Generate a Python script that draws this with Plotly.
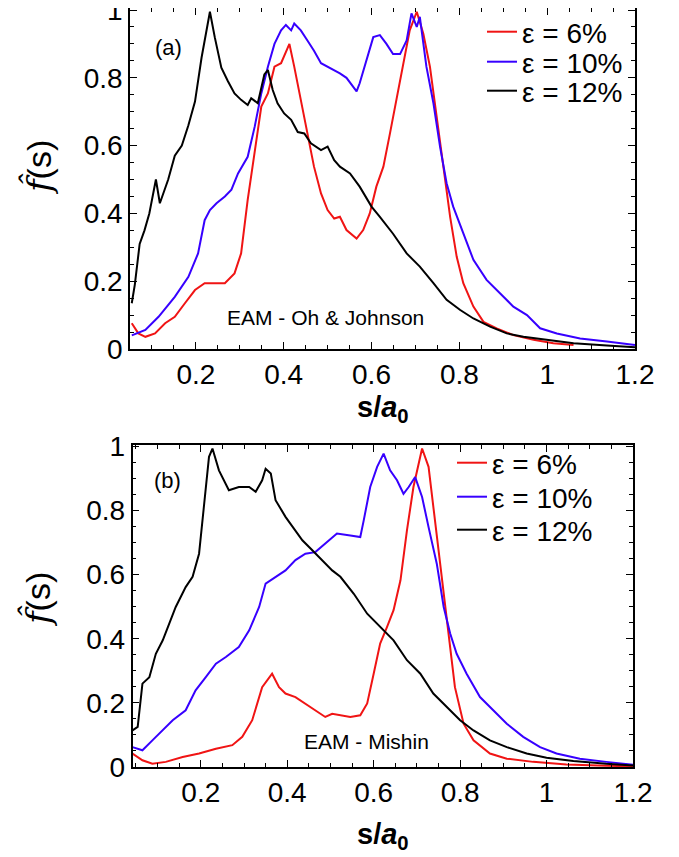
import plotly.graph_objects as go

# ---------------- Panel (a): EAM - Oh & Johnson ----------------
a_x_6 = [0.054, 0.069, 0.085, 0.107, 0.13, 0.152, 0.175, 0.198, 0.22, 0.243, 0.266, 0.288, 0.303, 0.318,
         0.334, 0.349, 0.364, 0.379, 0.394, 0.413, 0.424, 0.439, 0.454, 0.469, 0.485, 0.50, 0.515, 0.528,
         0.543, 0.566, 0.581, 0.596, 0.611, 0.627, 0.642, 0.657, 0.672, 0.687, 0.703, 0.718, 0.733, 0.748,
         0.763, 0.779, 0.794, 0.809, 0.832, 0.855, 0.885, 0.923, 0.969, 1.014, 1.06]
a_y_6 = [0.076, 0.046, 0.036, 0.046, 0.076, 0.095, 0.135, 0.174, 0.194, 0.194, 0.194, 0.223, 0.282, 0.44,
         0.587, 0.715, 0.754, 0.833, 0.843, 0.90, 0.833, 0.735, 0.636, 0.538, 0.459, 0.41, 0.385, 0.39,
         0.351, 0.326, 0.351, 0.40, 0.479, 0.538, 0.636, 0.734, 0.833, 0.94, 0.995, 0.93, 0.833, 0.685,
         0.538, 0.39, 0.272, 0.194, 0.125, 0.08, 0.061, 0.041, 0.027, 0.017, 0.012]

a_x_10 = [0.054, 0.085, 0.115, 0.152, 0.183, 0.205, 0.22, 0.232, 0.247, 0.266, 0.281, 0.296, 0.318, 0.334,
          0.349, 0.364, 0.379, 0.394, 0.405, 0.417, 0.424, 0.439, 0.454, 0.469, 0.485, 0.50, 0.515, 0.528,
          0.543, 0.566, 0.573, 0.589, 0.604, 0.619, 0.634, 0.649, 0.665, 0.68, 0.691, 0.703, 0.71, 0.725,
          0.741, 0.756, 0.771, 0.786, 0.809, 0.832, 0.862, 0.893, 0.923, 0.954, 0.984, 1.022, 1.075, 1.136, 1.2]
a_y_10 = [0.04, 0.056, 0.095, 0.154, 0.213, 0.282, 0.38, 0.41, 0.43, 0.45, 0.47, 0.518, 0.567, 0.656,
          0.754, 0.833, 0.90, 0.94, 0.956, 0.94, 0.96, 0.94, 0.91, 0.88, 0.843, 0.833, 0.823, 0.813,
          0.80, 0.76, 0.784, 0.852, 0.92, 0.926, 0.90, 0.87, 0.87, 0.91, 0.99, 0.95, 0.98, 0.833,
          0.725, 0.597, 0.489, 0.42, 0.34, 0.263, 0.204, 0.164, 0.125, 0.10, 0.061, 0.046, 0.031, 0.022, 0.012]

a_x_12 = [0.054, 0.061, 0.072, 0.083, 0.094, 0.109, 0.118, 0.137, 0.152, 0.168, 0.183, 0.198, 0.213, 0.232,
          0.243, 0.258, 0.273, 0.288, 0.303, 0.318, 0.326, 0.341, 0.356, 0.364, 0.375, 0.386, 0.401, 0.417,
          0.432, 0.447, 0.462, 0.485, 0.50, 0.515, 0.528, 0.551, 0.573, 0.60, 0.619, 0.649, 0.68, 0.71,
          0.741, 0.771, 0.802, 0.832, 0.87, 0.908, 0.946, 1.0, 1.06, 1.136, 1.2]
a_y_12 = [0.135, 0.19, 0.31, 0.35, 0.40, 0.50, 0.43, 0.50, 0.57, 0.60, 0.66, 0.73, 0.86, 0.995,
          0.92, 0.83, 0.79, 0.754, 0.735, 0.72, 0.74, 0.725, 0.81, 0.823, 0.764, 0.725, 0.695, 0.676,
          0.64, 0.636, 0.607, 0.587, 0.597, 0.557, 0.538, 0.518, 0.479, 0.42, 0.39, 0.34, 0.282, 0.243,
          0.194, 0.145, 0.115, 0.09, 0.066, 0.046, 0.036, 0.027, 0.017, 0.01, 0.005]

# ---------------- Panel (b): EAM - Mishin ----------------
b_x_6 = [0.042, 0.065, 0.088, 0.119, 0.158, 0.196, 0.235, 0.273, 0.296, 0.319, 0.342, 0.358, 0.365, 0.381,
         0.396, 0.419, 0.442, 0.465, 0.488, 0.504, 0.523, 0.546, 0.569, 0.585, 0.60, 0.615, 0.631, 0.646,
         0.662, 0.677, 0.692, 0.712, 0.727, 0.742, 0.758, 0.773, 0.788, 0.808, 0.831, 0.869, 0.908, 0.969,
         1.046, 1.138, 1.2]
b_y_6 = [0.042, 0.021, 0.01, 0.016, 0.031, 0.042, 0.057, 0.068, 0.094, 0.146, 0.249, 0.281, 0.291, 0.249,
         0.229, 0.218, 0.198, 0.177, 0.156, 0.166, 0.161, 0.156, 0.161, 0.198, 0.291, 0.385, 0.437, 0.489,
         0.582, 0.738, 0.873, 0.993, 0.936, 0.769, 0.593, 0.416, 0.249, 0.135, 0.083, 0.042, 0.026, 0.016,
         0.008, 0.004, 0.002]

b_x_10 = [0.042, 0.065, 0.088, 0.112, 0.135, 0.165, 0.188, 0.212, 0.235, 0.258, 0.288, 0.312, 0.335, 0.35,
          0.373, 0.396, 0.419, 0.442, 0.465, 0.488, 0.515, 0.546, 0.569, 0.577, 0.592, 0.608, 0.623, 0.638,
          0.654, 0.669, 0.681, 0.696, 0.712, 0.727, 0.746, 0.762, 0.777, 0.792, 0.815, 0.846, 0.877, 0.908,
          0.946, 0.985, 1.023, 1.077, 1.138, 1.2]
b_y_10 = [0.062, 0.052, 0.083, 0.114, 0.146, 0.177, 0.239, 0.281, 0.322, 0.343, 0.374, 0.426, 0.499, 0.572,
          0.593, 0.613, 0.645, 0.665, 0.67, 0.696, 0.728, 0.722, 0.717, 0.769, 0.873, 0.936, 0.977, 0.925,
          0.894, 0.852, 0.873, 0.904, 0.842, 0.748, 0.634, 0.499, 0.416, 0.353, 0.291, 0.218, 0.177, 0.135,
          0.094, 0.062, 0.042, 0.026, 0.016, 0.007]

b_x_12 = [0.042, 0.054, 0.065, 0.081, 0.096, 0.112, 0.127, 0.142, 0.165, 0.181, 0.196, 0.208, 0.219, 0.227,
          0.242, 0.265, 0.288, 0.312, 0.327, 0.342, 0.35, 0.362, 0.373, 0.396, 0.419, 0.435, 0.458, 0.481,
          0.504, 0.523, 0.554, 0.585, 0.615, 0.646, 0.677, 0.708, 0.738, 0.769, 0.80, 0.831, 0.869, 0.908,
          0.954, 1.0, 1.062, 1.138, 1.2]
b_y_12 = [0.114, 0.125, 0.26, 0.28, 0.353, 0.395, 0.447, 0.499, 0.561, 0.593, 0.665, 0.832, 0.967, 0.993,
          0.925, 0.863, 0.873, 0.873, 0.858, 0.894, 0.93, 0.915, 0.832, 0.78, 0.738, 0.707, 0.676, 0.645,
          0.613, 0.593, 0.54, 0.478, 0.437, 0.395, 0.333, 0.291, 0.229, 0.187, 0.146, 0.114, 0.083, 0.062,
          0.042, 0.029, 0.019, 0.01, 0.005]

series_names = ["ε = 6%", "ε = 10%", "ε = 12%"]
x_ticks = [0.2, 0.4, 0.6, 0.8, 1.0, 1.2]
y_ticks = [0, 0.2, 0.4, 0.6, 0.8, 1.0]

RED = "rgb(240,20,20)"
BLUE = "rgb(55,0,255)"
BLACK = "rgb(0,0,0)"
colors = [RED, BLUE, BLACK]
FONT = "Liberation Sans, Arial, Helvetica, sans-serif"

W, H = 679, 857
PAGE_OFFSET = 8  # the page body's default margin shifts the figure by 8 px


def clamp(v):
    return min(1.0, max(0.0, v))


def px_x(p):
    return clamp((p - PAGE_OFFSET) / W)


def px_y(p):
    return clamp(1 - (p - PAGE_OFFSET) / H)


fig = go.Figure()

panel_a = [(a_x_6, a_y_6), (a_x_10, a_y_10), (a_x_12, a_y_12)]
panel_b = [(b_x_6, b_y_6), (b_x_10, b_y_10), (b_x_12, b_y_12)]

# one legend per entry, so each row sits where the reference puts it
legend_rows_a = [32, 62, 91]
legend_rows_b = [463, 497, 530]
legend_x_a = 482
legend_x_b = 452

legend_layout = {}
k = 1
for (xs, ys), name, c, row in zip(panel_a, series_names, colors, legend_rows_a):
    lid = "legend" if k == 1 else f"legend{k}"
    fig.add_trace(go.Scatter(x=xs, y=ys, mode="lines", name=name,
                             line=dict(color=c, width=2), xaxis="x", yaxis="y", legend=lid))
    legend_layout[lid] = dict(x=px_x(legend_x_a), y=px_y(row), xanchor="left", yanchor="middle",
                              bgcolor="rgba(0,0,0,0)", borderwidth=0,
                              font=dict(family=FONT, size=28, color="black"), itemwidth=30)
    k += 1
for (xs, ys), name, c, row in zip(panel_b, series_names, colors, legend_rows_b):
    lid = f"legend{k}"
    fig.add_trace(go.Scatter(x=xs, y=ys, mode="lines", name=name,
                             line=dict(color=c, width=2), xaxis="x2", yaxis="y2", legend=lid))
    legend_layout[lid] = dict(x=px_x(legend_x_b), y=px_y(row), xanchor="left", yanchor="middle",
                              bgcolor="rgba(0,0,0,0)", borderwidth=0,
                              font=dict(family=FONT, size=28, color="black"), itemwidth=30)
    k += 1

axis_common = dict(
    showline=True, linecolor="black", linewidth=1.5, mirror="ticks",
    ticks="inside", ticklen=7, tickwidth=1.2, tickcolor="black",
    showgrid=False, zeroline=False, ticklabeloverflow="allow",
    tickfont=dict(family=FONT, size=28, color="black"),
    minor=dict(ticks="inside", ticklen=4, tickwidth=1, tickcolor="black", dtick=0.05, showgrid=False),
)

fig.update_layout(
    width=W, height=H,
    paper_bgcolor="white", plot_bgcolor="white",
    margin=dict(l=0, r=0, t=0, b=0, autoexpand=False),
    xaxis=dict(domain=[px_x(130), px_x(635)], range=[0.05, 1.2], tickvals=x_ticks,
               anchor="y", ticklabelstandoff=0, automargin=False, **axis_common),
    yaxis=dict(domain=[px_y(349), px_y(8)], range=[0, 1.006], tickvals=y_ticks,
               anchor="x", ticklabelstandoff=0, automargin=False, **axis_common),
    xaxis2=dict(domain=[px_x(132.5), px_x(633)], range=[0.042, 1.2], tickvals=x_ticks,
                anchor="y2", ticklabelstandoff=0, automargin=False, **axis_common),
    yaxis2=dict(domain=[px_y(767), px_y(445)], range=[0, 1.004], tickvals=y_ticks,
                anchor="x2", ticklabelstandoff=0, automargin=False, **axis_common),
    showlegend=True,
    **legend_layout,
)

ann_font = dict(family=FONT, size=21, color="black")
ytitle = ('<span style="font-family:DejaVu Serif, serif"><i>f\u0302</i></span>(s)')
annotations = [
    dict(text="(a)", x=px_x(168), y=px_y(48), font=dict(family=FONT, size=22, color="black")),
    dict(text="(b)", x=px_x(167), y=px_y(480), font=dict(family=FONT, size=22, color="black")),
    dict(text="EAM - Oh &amp; Johnson", x=px_x(325), y=px_y(318), font=ann_font),
    dict(text="EAM - Mishin", x=px_x(366), y=px_y(741), font=ann_font),
    dict(text="<b>s/<i>a</i><sub>0</sub></b>", x=px_x(383), y=px_y(409),
         font=dict(family=FONT, size=29, color="black")),
    dict(text="<b>s/<i>a</i><sub>0</sub></b>", x=px_x(383), y=px_y(836),
         font=dict(family=FONT, size=29, color="black")),
    dict(text=ytitle, x=px_x(38), y=px_y(168), textangle=-90,
         font=dict(family=FONT, size=34, color="black")),
    dict(text=ytitle, x=px_x(37), y=px_y(600), textangle=-90,
         font=dict(family=FONT, size=34, color="black")),
]
for a in annotations:
    a.update(xref="paper", yref="paper", showarrow=False, xanchor="center", yanchor="middle")
fig.update_layout(annotations=annotations)

fig.write_html("out.html")
